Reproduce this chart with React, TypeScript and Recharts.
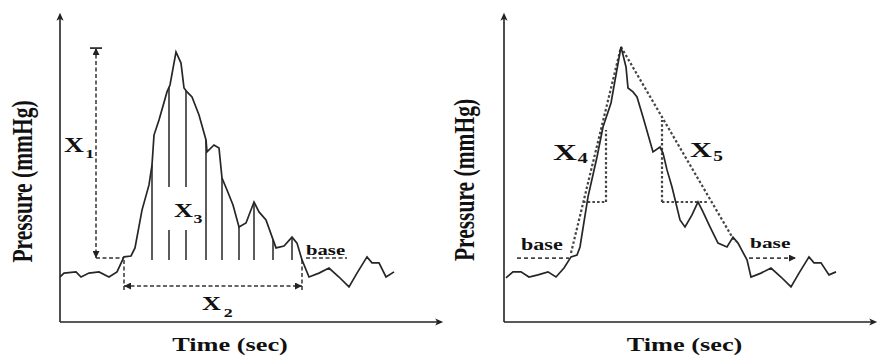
import React from 'react';
import { LineChart, Line, XAxis, YAxis, ReferenceLine, ReferenceDot } from 'recharts';

// ---- data (time in s, pressure in mmHg; arbitrary units)
const leftTimes = [0, 0.4, 1.6, 2.1, 2.9, 3.9, 4.9, 5.7, 6.4, 7.1, 7.5, 8.2, 8.9, 9.2, 9.4, 9.9, 10.7, 11.0, 11.6, 12.1, 12.4, 12.7, 13.2, 13.9, 14.6, 14.7, 15.4, 15.9, 16.2, 16.7, 17.3, 17.9, 18.6, 19.4, 19.9, 20.6, 21.6, 22.4, 23.2, 23.7, 24.2, 24.9, 25.9, 26.9, 27.9, 28.9, 29.7, 30.7, 31.2, 31.9, 32.6, 33.4];
const leftPressures = [15, 16.3, 16.7, 15, 16.3, 16.7, 15, 16.7, 21.7, 22, 24.7, 37.3, 45.7, 52.3, 62.3, 67.3, 76.7, 79, 90, 86.3, 78, 76.7, 75, 69, 60.7, 56.7, 59, 58, 48, 44, 39, 31.7, 33, 40, 36.7, 34, 24.7, 25.3, 28.3, 26.3, 20.7, 15, 16.3, 18, 15, 11.7, 16.3, 21.7, 19.7, 19.7, 15, 16.7];

const rightTimes = [0.2, 0.9, 1.7, 2.5, 3.4, 4.4, 5.2, 6.0, 6.7, 7.3, 7.6, 8.4, 9.3, 9.9, 10.7, 11.7, 12.2, 12.4, 12.9, 13.3, 13.9, 14.9, 15.6, 15.9, 16.3, 16.8, 17.6, 18.1, 18.8, 19.4, 19.9, 20.6, 21.4, 22.3, 22.9, 23.4, 24.3, 24.7, 25.7, 26.7, 27.7, 28.7, 29.5, 30.5, 31.0, 31.7, 32.5, 33.2];
const rightPressures = [14.7, 16.7, 16.7, 15, 15.7, 16.7, 15, 18, 21.7, 22.3, 25, 41.7, 55, 65, 73, 91.7, 85, 78, 76.7, 75, 68.3, 56.7, 58.3, 56.3, 50.7, 45, 34, 31.7, 35.7, 40, 36.7, 31.7, 26.3, 25, 28.3, 26.3, 20.7, 15, 16.3, 18, 15, 11.7, 16.3, 21.7, 19.7, 19.7, 15.7, 16.7];

const hatchTimes = [9.2, 10.9, 12.6, 14.6, 16.2, 17.9, 19.4, 21.3, 23.2];
const hatchSplitTimes = [10.9, 12.6];
const hatchBottom = 20.7;
const labelGap = [30.7, 45];
const baseLevel = 21.3;

// X1 / X2 dimensions (left)
const x1Time = 3.6;
const x1Top = 91.3;
const x2Start = 6.4;
const x2End = 24.2;
const x2Level = 12;
const x2Drop = 10.7;
const leftBaseSeg = [24.6, 28.7];

// X4 / X5 construction (right)
const riseLine = [[6.7, 23], [11.7, 91.7]];
const fallLine = [[11.7, 91.7], [23.1, 26.7]];
const x4Tri = { t0: 7.9, t1: 10.2, low: 40, high: 64 };
const x5Tri = { t0: 15.8, t1: 20.4, low: 40, high: 67.3 };
const rightBaseLeft = [1.3, 6.5];
const rightBaseRight = [24.5, 29.2];

const leftData = leftTimes.map((t, i) => ({ t, p: leftPressures[i] }));
const rightData = rightTimes.map((t, i) => ({ t, p: rightPressures[i] }));

function interp(times: number[], vals: number[], t: number) {
  for (let i = 0; i < times.length - 1; i++) {
    if (t >= times[i] && t <= times[i + 1]) {
      const f = (t - times[i]) / (times[i + 1] - times[i]);
      return vals[i] + f * (vals[i + 1] - vals[i]);
    }
  }
  return vals[vals.length - 1];
}

const FONT = "'Liberation Serif', 'Times New Roman', Times, serif";
const STRETCH = 1.38;
const INK = '#222';

function SubLabel(props: any) {
  const { cx, cy, main, sub, size, subSize, subDx = 1, subDy = 6 } = props;
  return (
    <text
      transform={`translate(${cx},${cy}) scale(${STRETCH},1)`}
      x={0}
      y={0}
      fontFamily={FONT}
      fontWeight={700}
      fontSize={size}
      fill="#111"
    >
      {main}
      {sub ? (
        <tspan fontSize={subSize} dx={subDx} dy={subDy}>
          {sub}
        </tspan>
      ) : null}
    </text>
  );
}

function XTitle(props: any) {
  const vb = props.viewBox || { x: 60, y: 322, width: 380, height: 1 };
  const cx = vb.x + vb.width / 2 + (props.shift || 0);
  const cy = vb.y + 29;
  return (
    <text
      transform={`translate(${cx},${cy}) scale(1.35,1)`}
      textAnchor="middle"
      fontFamily={FONT}
      fontWeight={700}
      fontSize={19.5}
      fill="#111"
    >
      Time (sec)
    </text>
  );
}

function YTitle(props: any) {
  const vb = props.viewBox || { x: 59, y: 16, width: 1, height: 306 };
  const cx = vb.x + (vb.width || 0) - (props.gap || 38);
  const cy = vb.y + vb.height / 2 + (props.shift || 12);
  return (
    <text
      transform={`translate(${cx},${cy}) scale(1.38,1) rotate(-90)`}
      textAnchor="middle"
      dy="0.35em"
      fontFamily={FONT}
      fontWeight={700}
      fontSize={21.5}
      fill="#111"
    >
      Pressure (mmHg)
    </text>
  );
}

const leftDash = { stroke: '#333', strokeWidth: 1.5, strokeDasharray: '4 2.5' };
const rightDot = { stroke: '#444', strokeWidth: 2.2, strokeDasharray: '2.5 2.2' };
const rightDash = { stroke: '#444', strokeWidth: 1.8, strokeDasharray: '4 3' };

function seg(t0: number, p0: number, t1: number, p1: number) {
  return [
    { x: t0, y: p0 },
    { x: t1, y: p1 },
  ];
}

function LeftPanel() {
  return (
    <LineChart width={452} height={356} data={leftData} margin={{ top: 16, right: 12, bottom: 33, left: 59 }}>
      <XAxis
        type="number"
        dataKey="t"
        domain={[0, 38]}
        height={1}
        tick={false}
        tickLine={false}
        allowDataOverflow
        axisLine={{ stroke: INK, strokeWidth: 1.6, markerEnd: 'url(#axisArrow)' }}
        label={{ content: (lp: any) => <XTitle viewBox={lp.viewBox} shift={-20} /> }}
      />
      <YAxis
        type="number"
        domain={[0, 102]}
        width={1}
        tick={false}
        tickLine={false}
        allowDataOverflow
        axisLine={{ stroke: INK, strokeWidth: 1.6, markerStart: 'url(#axisArrow)' }}
        label={{ content: (lp: any) => <YTitle viewBox={lp.viewBox} gap={38} shift={12.5} /> }}
      />

      {/* hatch lines under the curve (X3) */}
      {hatchTimes.map((t) => {
        const top = interp(leftTimes, leftPressures, t);
        if (hatchSplitTimes.includes(t)) {
          return (
            <React.Fragment key={`h${t}`}>
              <ReferenceLine segment={seg(t, hatchBottom, t, labelGap[0])} stroke="#333" strokeWidth={1.6} ifOverflow="visible" />
              <ReferenceLine segment={seg(t, labelGap[1], t, top)} stroke="#333" strokeWidth={1.6} ifOverflow="visible" />
            </React.Fragment>
          );
        }
        return <ReferenceLine key={`h${t}`} segment={seg(t, hatchBottom, t, top)} stroke="#333" strokeWidth={1.6} ifOverflow="visible" />;
      })}

      {/* X1 */}
      <ReferenceLine segment={seg(x1Time, x1Top, x1Time, baseLevel)} {...leftDash} markerStart="url(#dimArrow)" markerEnd="url(#dimArrow)" ifOverflow="visible" />
      <ReferenceLine segment={seg(x1Time - 0.6, x1Top, x1Time + 0.6, x1Top)} stroke="#333" strokeWidth={1.8} ifOverflow="visible" />
      <ReferenceLine segment={seg(x1Time, baseLevel, x2Start, baseLevel)} {...leftDash} ifOverflow="visible" />

      {/* X2 */}
      <ReferenceLine segment={seg(x2Start, hatchBottom, x2Start, x2Drop)} {...leftDash} ifOverflow="visible" />
      <ReferenceLine segment={seg(x2End, hatchBottom, x2End, x2Drop)} {...leftDash} ifOverflow="visible" />
      <ReferenceLine segment={seg(x2Start, x2Level, x2End, x2Level)} {...leftDash} markerStart="url(#dimArrow)" markerEnd="url(#dimArrow)" ifOverflow="visible" />

      {/* base */}
      <ReferenceLine segment={seg(leftBaseSeg[0], baseLevel, leftBaseSeg[1], baseLevel)} {...leftDash} ifOverflow="visible" />

      <Line type="linear" dataKey="p" stroke="#262626" strokeWidth={1.7} dot={false} isAnimationActive={false} />

      <ReferenceDot x={0.4} y={56.7} r={0} ifOverflow="visible" shape={(p: any) => <SubLabel cx={p.cx} cy={p.cy} main="X" sub="1" size={20} subSize={13} subDx={1} subDy={6} />} />
      <ReferenceDot x={11.4} y={35} r={0} ifOverflow="visible" shape={(p: any) => <SubLabel cx={p.cx} cy={p.cy} main="X" sub="3" size={19} subSize={13} subDx={0.5} subDy={6} />} />
      <ReferenceDot x={14.2} y={4} r={0} ifOverflow="visible" shape={(p: any) => <SubLabel cx={p.cx} cy={p.cy} main="X" sub="2" size={19} subSize={13} subDx={2} subDy={7} />} />
      <ReferenceDot x={24.6} y={22.3} r={0} ifOverflow="visible" shape={(p: any) => <SubLabel cx={p.cx} cy={p.cy} main="base" size={15} />} />
    </LineChart>
  );
}

function RightPanel() {
  return (
    <LineChart width={441} height={356} data={rightData} margin={{ top: 16, right: 8, bottom: 33, left: 62 }}>
      <XAxis
        type="number"
        dataKey="t"
        domain={[0, 37]}
        height={1}
        tick={false}
        tickLine={false}
        allowDataOverflow
        axisLine={{ stroke: INK, strokeWidth: 1.6, markerEnd: 'url(#axisArrow)' }}
        label={{ content: (lp: any) => <XTitle viewBox={lp.viewBox} shift={-4.5} /> }}
      />
      <YAxis
        type="number"
        domain={[0, 102]}
        width={1}
        tick={false}
        tickLine={false}
        allowDataOverflow
        axisLine={{ stroke: INK, strokeWidth: 1.6, markerStart: 'url(#axisArrow)' }}
        label={{ content: (lp: any) => <YTitle viewBox={lp.viewBox} gap={40} shift={11} /> }}
      />

      {/* base lines */}
      <ReferenceLine segment={seg(rightBaseLeft[0], baseLevel, rightBaseLeft[1], baseLevel)} {...rightDash} ifOverflow="visible" />
      <ReferenceLine segment={seg(rightBaseRight[0], baseLevel, rightBaseRight[1], baseLevel)} {...rightDash} markerEnd="url(#dimArrow)" ifOverflow="visible" />

      {/* X4 rise construction */}
      <ReferenceLine segment={seg(riseLine[0][0], riseLine[0][1], riseLine[1][0], riseLine[1][1])} {...rightDot} ifOverflow="visible" />
      <ReferenceLine segment={seg(x4Tri.t0, x4Tri.low, x4Tri.t1, x4Tri.low)} {...rightDot} ifOverflow="visible" />
      <ReferenceLine segment={seg(x4Tri.t1, x4Tri.low, x4Tri.t1, x4Tri.high)} {...rightDot} ifOverflow="visible" />

      {/* X5 fall construction */}
      <ReferenceLine segment={seg(fallLine[0][0], fallLine[0][1], fallLine[1][0], fallLine[1][1])} {...rightDot} ifOverflow="visible" />
      <ReferenceLine segment={seg(x5Tri.t0, x5Tri.low, x5Tri.t1, x5Tri.low)} {...rightDot} ifOverflow="visible" />
      <ReferenceLine segment={seg(x5Tri.t0, x5Tri.low, x5Tri.t0, x5Tri.high)} {...rightDot} ifOverflow="visible" />

      <Line type="linear" dataKey="p" stroke="#262626" strokeWidth={1.7} dot={false} isAnimationActive={false} />

      <ReferenceDot x={1.7} y={24} r={0} ifOverflow="visible" shape={(p: any) => <SubLabel cx={p.cx} cy={p.cy} main="base" size={16} />} />
      <ReferenceDot x={24.6} y={24.7} r={0} ifOverflow="visible" shape={(p: any) => <SubLabel cx={p.cx} cy={p.cy} main="base" size={15.5} />} />
      <ReferenceDot x={4.9} y={54} r={0} ifOverflow="visible" shape={(p: any) => <SubLabel cx={p.cx} cy={p.cy} main="X" sub="4" size={24} subSize={15} subDx={0.5} subDy={3} />} />
      <ReferenceDot x={18.6} y={55} r={0} ifOverflow="visible" shape={(p: any) => <SubLabel cx={p.cx} cy={p.cy} main="X" sub="5" size={22} subSize={14} subDx={1} subDy={4} />} />
    </LineChart>
  );
}

export default function App() {
  return (
    <div style={{ position: 'relative', width: 882, height: 356, background: '#fff', overflow: 'hidden' }}>
      <style>{`body{margin:0;background:#fff;}`}</style>
      <svg width={0} height={0} style={{ position: 'absolute' }}>
        <defs>
          <marker id="axisArrow" viewBox="0 0 10 10" refX="6" refY="5" markerWidth="9" markerHeight="8" markerUnits="userSpaceOnUse" orient="auto-start-reverse">
            <path d="M0,0.5 L10,5 L0,9.5 L2.5,5 z" fill="#222" />
          </marker>
          <marker id="dimArrow" viewBox="0 0 10 10" refX="10" refY="5" markerWidth="8" markerHeight="7" markerUnits="userSpaceOnUse" orient="auto-start-reverse">
            <path d="M0,0 L10,5 L0,10 z" fill="#222" />
          </marker>
        </defs>
      </svg>
      <div style={{ position: 'absolute', left: 0, top: 0 }}>
        <LeftPanel />
      </div>
      <div style={{ position: 'absolute', left: 441, top: 0 }}>
        <RightPanel />
      </div>
    </div>
  );
}
